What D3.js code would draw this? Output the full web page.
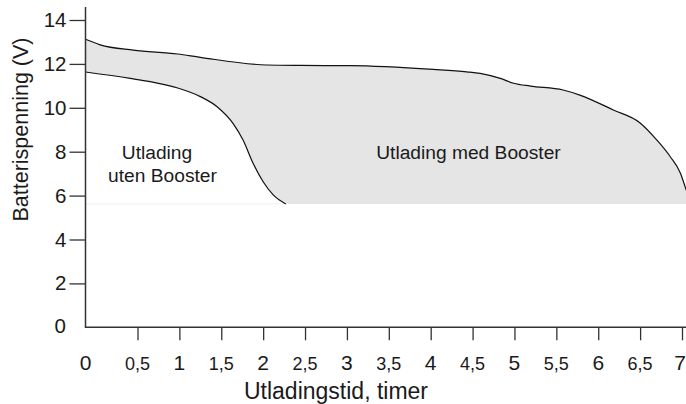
<!DOCTYPE html>
<html><head><meta charset="utf-8">
<script src="https://cdn.jsdelivr.net/npm/d3@7"></script>
<style>
html,body{margin:0;padding:0;background:#fff;}
text{font-family:"Liberation Sans",Arial,sans-serif;fill:#1a1a1a;}
</style></head>
<body><svg id="c" width="686" height="404"></svg>
<script>
// Data (time in hours, voltage in V)
const withBoosterT = [0, 0.14, 0.46, 0.98, 1.25, 2.04, 2.44, 3.04, 4.03, 4.43, 4.59, 4.83, 4.99, 5.19, 5.58, 5.78, 6.18, 6.50, 6.70, 6.86, 6.98, 7.05, 7.11];
const withBoosterV = [13.12, 12.87, 12.63, 12.45, 12.30, 11.95, 11.93, 11.92, 11.75, 11.64, 11.57, 11.34, 11.12, 10.99, 10.81, 10.58, 9.90, 9.31, 8.53, 7.77, 7.03, 6.26, 5.62];
const withoutBoosterT = [0, 0.43, 0.65, 0.98, 1.25, 1.45, 1.64, 1.76, 1.88, 2.00, 2.12, 2.27];
const withoutBoosterV = [11.63, 11.34, 11.19, 10.90, 10.51, 10.05, 9.29, 8.53, 7.47, 6.63, 6.03, 5.62];
const cutoffV = 5.62;
const xTicks = [0, 0.5, 1, 1.5, 2, 2.5, 3, 3.5, 4, 4.5, 5, 5.5, 6, 6.5, 7];
const yTicks = [0, 2, 4, 6, 8, 10, 12, 14];
const xTitle = "Utladingstid, timer";
const yTitle = "Batterispenning (V)";
const labelWithout = ["Utlading", "uten Booster"];
const labelWith = "Utlading med Booster";

const svg = d3.select("#c");
const W = 686;
const x = d3.scaleLinear().domain([0, 0.5, 7]).range([85.5, 137.5, 682]);
const y = d3.scaleLinear().domain([0, 14]).range([327.3, 20]);
const axisColor = "#333";

const up = withBoosterT.map((t, i) => [t, withBoosterV[i]]);
const lo = withoutBoosterT.map((t, i) => [t, withoutBoosterV[i]]);
const line = d3.line().x(d => x(d[0])).y(d => y(d[1])).curve(d3.curveMonotoneX);

// fill region
const upPath = line(up);
const loRev = line(lo.slice().reverse()).replace(/^M/, "L");
const fillPath = upPath + "L" + x(withoutBoosterT[withoutBoosterT.length-1]) + "," + y(cutoffV) + loRev + "Z";
svg.append("path").attr("d", fillPath).attr("fill", "#e5e5e5").attr("stroke", "none");
svg.append("line").attr("x1", x(0)).attr("x2", x(withoutBoosterT[withoutBoosterT.length-1]))
  .attr("y1", y(cutoffV)).attr("y2", y(cutoffV)).attr("stroke", "#f1f1f1").attr("stroke-width", 1);

svg.append("path").attr("d", line(up)).attr("fill", "none").attr("stroke", "#111").attr("stroke-width", 1.2);
svg.append("path").attr("d", line(lo)).attr("fill", "none").attr("stroke", "#111").attr("stroke-width", 1.2);

// Y axis
const yAxis = d3.axisLeft(y).tickValues(yTicks.filter(v => v > 0)).tickSize(16).tickPadding(3).tickFormat(d3.format("d"));
const gy = svg.append("g").attr("transform", "translate(85.5,0)").call(yAxis);
gy.select(".domain").remove();
gy.selectAll(".tick line").attr("stroke", axisColor).attr("stroke-width", 1.3);
gy.selectAll(".tick text").attr("font-size", 20.5).attr("fill", "#1a1a1a").attr("font-family", "Liberation Sans, Arial, sans-serif");
svg.append("text").attr("x", 66).attr("y", y(0)).attr("dy", "0.3em").attr("text-anchor", "end")
  .attr("font-size", 20.5).text(yTicks[0]);
svg.append("line").attr("x1", 85.5).attr("x2", 85.5).attr("y1", 7).attr("y2", y(0) + 0.7)
  .attr("stroke", axisColor).attr("stroke-width", 1.5);

// X axis
const xAxis = d3.axisBottom(x).tickValues(xTicks.filter(v => v > 0)).tickSize(13).tickPadding(0).tickFormat(() => "");
const gx = svg.append("g").attr("transform", "translate(0," + y(0) + ")").call(xAxis);
gx.select(".domain").remove();
gx.selectAll(".tick line").attr("stroke", axisColor).attr("stroke-width", 1.3);
svg.append("line").attr("x1", 85).attr("x2", W).attr("y1", y(0)).attr("y2", y(0))
  .attr("stroke", axisColor).attr("stroke-width", 1.5);
svg.append("g").selectAll("text").data(xTicks).join("text")
  .attr("x", d => Math.min(x(d), W - 6))
  .attr("y", 369.5)
  .attr("text-anchor", "middle")
  .attr("font-size", d => Number.isInteger(d) ? 21 : 18)
  .text(d => String(d).replace(".", ","));

// titles
svg.append("text").attr("x", 336).attr("y", 399).attr("text-anchor", "middle").attr("font-size", 23).text(xTitle);
svg.append("text").attr("transform", "translate(28,129.5) rotate(-90)").attr("text-anchor", "middle").attr("font-size", 21.5).text(yTitle);

// annotations
svg.append("text").attr("x", 157).attr("y", 159.3).attr("text-anchor", "middle").attr("font-size", 19.2).text(labelWithout[0]);
svg.append("text").attr("x", 162.5).attr("y", 182.3).attr("text-anchor", "middle").attr("font-size", 19.2).text(labelWithout[1]);
svg.append("text").attr("x", 468.5).attr("y", 159.3).attr("text-anchor", "middle").attr("font-size", 19.2).text(labelWith);
</script></body></html>
